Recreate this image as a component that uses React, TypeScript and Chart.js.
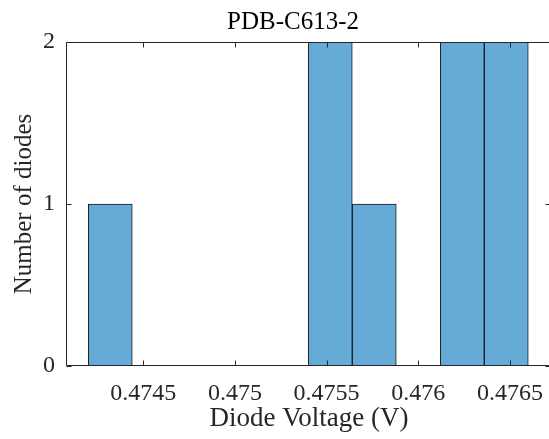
import React, { useEffect, useRef } from 'react';
import { Chart, registerables } from 'chart.js';

Chart.register(...registerables);

// ---- data ----
const binCenters = [0.47432, 0.47456, 0.4748, 0.47504, 0.47528, 0.47552, 0.47576, 0.476, 0.47624, 0.47648];
const counts = [1, 0, 0, 0, 0, 2, 1, 0, 2, 2];
const xTickValues = [0.4745, 0.475, 0.4755, 0.476, 0.4765];
const xTickLabels = ['0.4745', '0.475', '0.4755', '0.476', '0.4765'];
const yTickValues = [0, 1, 2];
const yTickLabels = ['0', '1', '2'];
const xLimits = [0.474084, 0.476724];
const yLimits = [0, 2];
const chartTitle = 'PDB-C613-2';
const xTitle = 'Diode Voltage (V)';
const yTitle = 'Number of diodes';

const FONT = '"Liberation Serif", "Times New Roman", serif';
const AXIS_COLOR = '#262626';

const framePlugin = {
  id: 'matlabFrame',
  afterDatasetsDraw(chart: any) {
    const { ctx, chartArea: a, scales } = chart;
    const xs = scales.x;
    const ys = scales.y;
    const L = Math.round(a.left) - 0.5;
    const R = Math.round(a.right) - 0.5;
    const T = Math.round(a.top) + 0.5;
    const B = Math.round(a.bottom) - 0.5;
    const tl = 5;
    ctx.save();
    ctx.strokeStyle = AXIS_COLOR;
    ctx.lineWidth = 1;
    ctx.beginPath();
    ctx.moveTo(L, B);
    ctx.lineTo(R, B);
    ctx.moveTo(L, T);
    ctx.lineTo(R, T);
    ctx.moveTo(L, T);
    ctx.lineTo(L, B);
    ctx.moveTo(R, T);
    ctx.lineTo(R, B);
    xTickValues.forEach((v) => {
      const px = Math.round(xs.getPixelForValue(v)) + 0.5;
      ctx.moveTo(px, B);
      ctx.lineTo(px, B - tl);
      ctx.moveTo(px, T);
      ctx.lineTo(px, T + tl);
    });
    yTickValues.forEach((v) => {
      const py = Math.round(ys.getPixelForValue(v)) + 0.5;
      ctx.moveTo(L, py);
      ctx.lineTo(L + tl, py);
      ctx.moveTo(R, py);
      ctx.lineTo(R - tl, py);
    });
    ctx.stroke();

    // title (centered where the reference centers it)
    ctx.fillStyle = '#000';
    ctx.font = `25px ${FONT}`;
    ctx.textAlign = 'center';
    ctx.textBaseline = 'alphabetic';
    ctx.fillText(chartTitle, 293, 29);
    ctx.restore();
  },
};

export default function App() {
  const ref = useRef<HTMLCanvasElement | null>(null);

  useEffect(() => {
    if (!ref.current) return;
    const chart = new Chart(ref.current, {
      type: 'bar',
      data: {
        datasets: [
          {
            data: binCenters.map((x, i) => ({ x, y: counts[i] })),
            backgroundColor: '#66AAD7',
            borderColor: '#1a1a1a',
            borderWidth: 1,
            borderSkipped: false,
            barPercentage: 1,
            categoryPercentage: 1,
          } as any,
        ],
      },
      options: {
        animation: false,
        responsive: false,
        devicePixelRatio: 1,
        layout: { padding: { left: 0, right: 1, top: 42, bottom: 0 } },
        plugins: {
          legend: { display: false },
          tooltip: { enabled: false },
          title: { display: false },
        },
        scales: {
          x: {
            type: 'linear',
            min: xLimits[0],
            max: xLimits[1],
            offset: false,
            grid: { display: false, drawTicks: false },
            border: { display: false },
            afterBuildTicks: (s: any) => {
              s.ticks = xTickValues.map((v) => ({ value: v }));
            },
            afterFit: (s: any) => {
              s.height = 73;
              s.paddingLeft = 0;
              s.paddingRight = 0;
            },
            ticks: {
              autoSkip: false,
              maxRotation: 0,
              padding: 13,
              color: AXIS_COLOR,
              font: { family: FONT, size: 24 },
              callback: (_v: any, i: number) => xTickLabels[i],
            },
            title: {
              display: true,
              text: xTitle,
              color: AXIS_COLOR,
              font: { family: FONT, size: 27 },
              padding: { top: 0, bottom: 4 },
            },
          },
          y: {
            type: 'linear',
            min: yLimits[0],
            max: yLimits[1],
            grid: { display: false, drawTicks: false },
            border: { display: false },
            afterBuildTicks: (s: any) => {
              s.ticks = yTickValues.map((v) => ({ value: v }));
            },
            afterFit: (s: any) => {
              s.width = 67;
              s.paddingTop = 0;
              s.paddingBottom = 0;
            },
            ticks: {
              padding: 12,
              color: AXIS_COLOR,
              font: { family: FONT, size: 24 },
              callback: (_v: any, i: number) => yTickLabels[i],
            },
            title: {
              display: true,
              text: yTitle,
              color: AXIS_COLOR,
              font: { family: FONT, size: 25 },
              padding: { top: 9, bottom: 0 },
            },
          },
        },
      } as any,
      plugins: [framePlugin],
    });
    return () => chart.destroy();
  }, []);

  return (
    <div
      style={{
        position: 'fixed',
        left: 0,
        top: 0,
        width: 549,
        height: 439,
        overflow: 'hidden',
        background: '#fff',
      }}
    >
      <canvas ref={ref} width={552} height={439} style={{ display: 'block' }} />
    </div>
  );
}
